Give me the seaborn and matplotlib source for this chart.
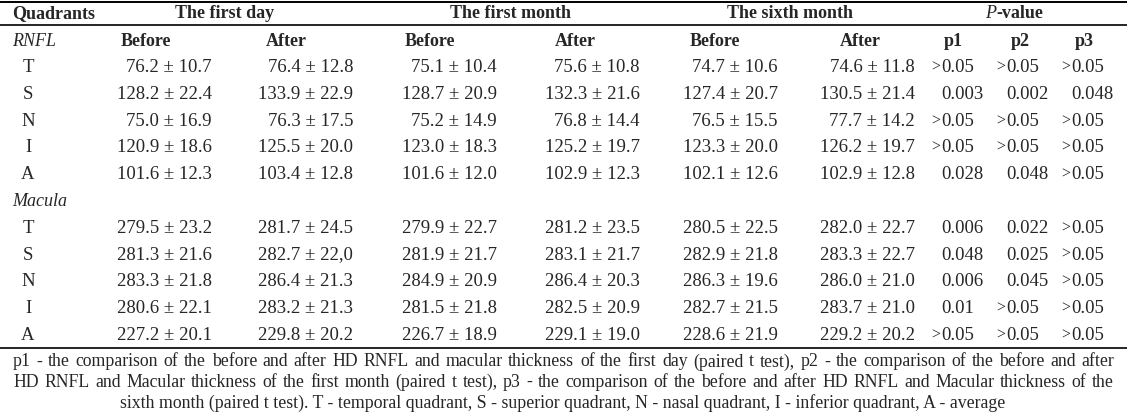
import matplotlib
matplotlib.use("Agg")
import matplotlib.pyplot as plt
import seaborn as sns

# table content
quadrants = ["T", "S", "N", "I", "A"]
periods = ["The first day", "The first month", "The sixth month"]
sub_headers = ["Before", "After", "Before", "After", "Before", "After"]
p_headers = ["p1", "p2", "p3"]

rnfl_rows = [
    ["76.2 ± 10.7", "76.4 ± 12.8", "75.1 ± 10.4", "75.6 ± 10.8", "74.7 ± 10.6", "74.6 ± 11.8"],
    ["128.2 ± 22.4", "133.9 ± 22.9", "128.7 ± 20.9", "132.3 ± 21.6", "127.4 ± 20.7", "130.5 ± 21.4"],
    ["75.0 ± 16.9", "76.3 ± 17.5", "75.2 ± 14.9", "76.8 ± 14.4", "76.5 ± 15.5", "77.7 ± 14.2"],
    ["120.9 ± 18.6", "125.5 ± 20.0", "123.0 ± 18.3", "125.2 ± 19.7", "123.3 ± 20.0", "126.2 ± 19.7"],
    ["101.6 ± 12.3", "103.4 ± 12.8", "101.6 ± 12.0", "102.9 ± 12.3", "102.1 ± 12.6", "102.9 ± 12.8"],
]
rnfl_p = [
    [">0.05", ">0.05", ">0.05"],
    ["0.003", "0.002", "0.048"],
    [">0.05", ">0.05", ">0.05"],
    [">0.05", ">0.05", ">0.05"],
    ["0.028", "0.048", ">0.05"],
]
macula_rows = [
    ["279.5 ± 23.2", "281.7 ± 24.5", "279.9 ± 22.7", "281.2 ± 23.5", "280.5 ± 22.5", "282.0 ± 22.7"],
    ["281.3 ± 21.6", "282.7 ± 22,0", "281.9 ± 21.7", "283.1 ± 21.7", "282.9 ± 21.8", "283.3 ± 22.7"],
    ["283.3 ± 21.8", "286.4 ± 21.3", "284.9 ± 20.9", "286.4 ± 20.3", "286.3 ± 19.6", "286.0 ± 21.0"],
    ["280.6 ± 22.1", "283.2 ± 21.3", "281.5 ± 21.8", "282.5 ± 20.9", "282.7 ± 21.5", "283.7 ± 21.0"],
    ["227.2 ± 20.1", "229.8 ± 20.2", "226.7 ± 18.9", "229.1 ± 19.0", "228.6 ± 21.9", "229.2 ± 20.2"],
]
macula_p = [
    ["0.006", "0.022", ">0.05"],
    ["0.048", "0.025", ">0.05"],
    ["0.006", "0.045", ">0.05"],
    ["0.01", ">0.05", ">0.05"],
    [">0.05", ">0.05", ">0.05"],
]
footnote = [
    "p1 -  the comparison of the before and after HD RNFL and macular thickness of the first day (paired t test), p2 - the comparison of the before and after",
    "HD RNFL and Macular thickness of the first month (paired t test), p3 - the comparison of the before and after HD RNFL and Macular thickness of the",
    "sixth month (paired t test). T - temporal quadrant, S - superior quadrant, N - nasal quadrant, I - inferior quadrant, A - average",
]

sns.set_theme(style="white")
plt.rcParams["font.family"] = ["Liberation Serif", "DejaVu Serif"]

fig = plt.figure(figsize=(11.27, 4.16), dpi=100)
ax = fig.add_axes([0, 0, 1, 1])
ax.set_xlim(0, 1127)
ax.set_ylim(416, 0)
ax.axis("off")

fs = 13.5     # body
fh = 13       # headers
fn = 12.8     # footnote
# column layout (pixels)
period_x = [225, 510, 790]
sub_x = [146, 286, 430, 575, 715, 860]
val_right = [212, 353, 497, 640, 778, 915]
p_x = [953, 1020, 1084]
p_start = [941, 1006, 1071]
quad_x = 28

y_head = 14
y_sub = 41
step = 26.75

# rules
for y, lw in [(2, 1.4), (25, 1.2), (348, 1.2)]:
    ax.plot([0, 1127], [y, y], color="black", lw=lw, solid_capstyle="butt")

# header row
ax.text(12, y_head, "Quadrants", fontsize=fh, fontweight="bold", va="center", ha="left")
for x, t in zip(period_x, periods):
    ax.text(x, y_head, t, fontsize=fh, fontweight="bold", va="center", ha="center")
ax.text(996, y_head, "P", fontsize=fh, fontstyle="italic", va="center", ha="right")
ax.text(996, y_head, "-value", fontsize=fh, fontweight="bold", va="center", ha="left")


def p_cell(x, y, s):
    if s.startswith(">"):
        ax.text(x - 1, y, ">", fontsize=fs - 2, va="center", ha="right")
        s = s[1:]
    ax.text(x, y, s, fontsize=fs, va="center", ha="left")


def section(label, y0, rows, pvals):
    ax.text(12, y0, label, fontsize=fh, fontstyle="italic", va="center", ha="left")
    for i, q in enumerate(quadrants):
        y = y0 + step * (i + 1)
        ax.text(quad_x, y, q, fontsize=fs, va="center", ha="center")
        for x, s in zip(val_right, rows[i]):
            ax.text(x, y, s, fontsize=fs, va="center", ha="right")
        for x, s in zip(p_start, pvals[i]):
            p_cell(x, y, s)


section("RNFL", y_sub, rnfl_rows, rnfl_p)
for x, t in zip(sub_x, sub_headers):
    ax.text(x, y_sub, t, fontsize=fh, fontweight="bold", va="center", ha="center")
for x, t in zip(p_x, p_headers):
    ax.text(x, y_sub, t, fontsize=fh, fontweight="bold", va="center", ha="center")
section("Macula", y_sub + step * 6, macula_rows, macula_p)

# footnote: justified lines, last line centred
renderer = fig.canvas.get_renderer()
left, right = 13, 1114
for i, line in enumerate(footnote):
    y = 362 + 20.3 * i
    if i == len(footnote) - 1:
        ax.text(563, y, line, fontsize=fn, va="center", ha="center")
        continue
    words = line.split()
    arts = [ax.text(0, y, w, fontsize=fn, va="center", ha="left") for w in words]
    widths = [a.get_window_extent(renderer).width for a in arts]
    gap = (right - left - sum(widths)) / (len(words) - 1)
    x = left
    for a, w in zip(arts, widths):
        a.set_x(x)
        x += w + gap

fig.savefig("out.png", dpi=100)
